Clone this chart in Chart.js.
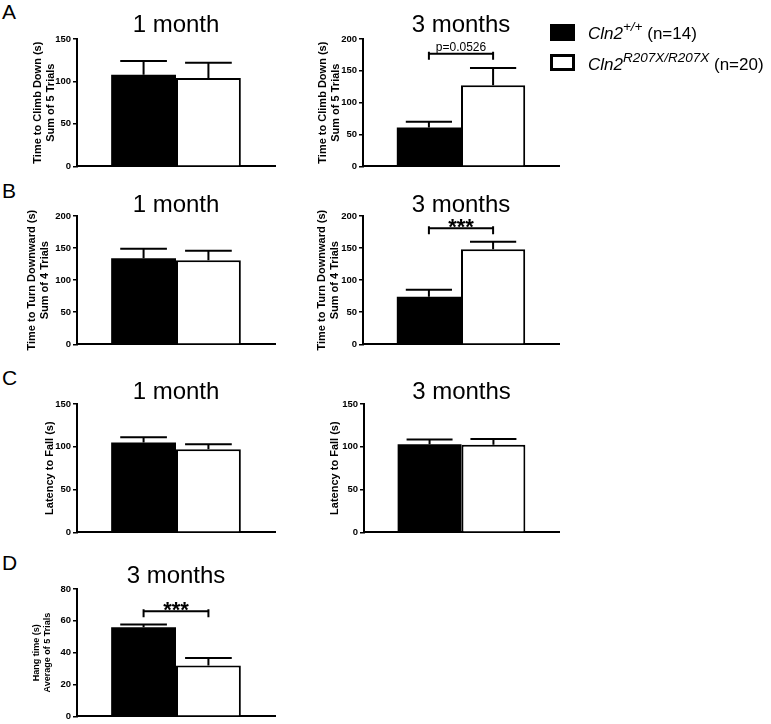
<!DOCTYPE html>
<html>
<head>
<meta charset="utf-8">
<script src="https://cdn.jsdelivr.net/npm/chart.js@4.4.1/dist/chart.umd.min.js"></script>
<style>
html,body{margin:0;padding:0;background:#fff;}
body{width:771px;height:724px;position:relative;overflow:hidden;font-family:"Liberation Sans",Arial,sans-serif;color:#000;}
canvas{position:absolute;}
.letter{position:absolute;font-size:21px;line-height:21px;left:2px;}
.sw{position:absolute;left:550px;width:25px;height:17px;box-sizing:border-box;}
.lt{position:absolute;left:588px;font-size:17px;line-height:16px;white-space:nowrap;}
.lt i{font-style:italic;}
.lt .sup{position:relative;top:-8px;font-size:13.5px;font-style:italic;}
</style>
</head>
<body>
<script>
// ---------- data ----------
const panelTitles = ['1 month', '3 months', '1 month', '3 months', '1 month', '3 months', '3 months'];
const yTitles = [
  ['Time to Climb Down (s)', 'Sum of 5 Trials'],
  ['Time to Climb Down (s)', 'Sum of 5 Trials'],
  ['Time to Turn Downward (s)', 'Sum of 4 Trials'],
  ['Time to Turn Downward (s)', 'Sum of 4 Trials'],
  ['Latency to Fall (s)'],
  ['Latency to Fall (s)'],
  ['Hang time (s)', 'Average of 5 Trials']
];
const wtMeans  = [108, 61, 134, 74, 105, 103, 56];
const wtSem    = [16, 9, 15, 11, 6, 5.5, 1.7];
const mutMeans = [104, 127.5, 131, 148, 97, 102.5, 32];
const mutSem   = [18, 27, 15, 12, 6, 6.5, 4.6];
const yMax     = [150, 200, 200, 200, 150, 150, 80];
const yStep    = [50, 50, 50, 50, 50, 50, 20];
const sigLabels = ['', 'p=0.0526', '', '***', '', '', '***'];
const sigValues = [null, 177, null, 181, null, null, 66];
const genotypes = ['Cln2', 'Cln2'];
const genoSup   = ['+/+', 'R207X/R207X'];
const nCounts   = [14, 20];
const panelLetters = ['A', 'B', 'C', 'D'];

// ---------- layout (positions / styles) ----------
const layouts = [
  {axisX:77,  top:39,  bottom:168, right:275, titleX:38,  tf:11,  tlh:13, gap:7},
  {axisX:363, top:39,  bottom:168, right:559, titleX:323, tf:11,  tlh:13, gap:7},
  {axisX:77,  top:216, bottom:346, right:275, titleX:32,  tf:11,  tlh:13, gap:4},
  {axisX:363, top:216, bottom:346, right:559, titleX:322, tf:11,  tlh:13, gap:4},
  {axisX:77,  top:404, bottom:534, right:275, titleX:50,  tf:11,  tlh:13, gap:5},
  {axisX:364, top:404, bottom:534, right:559, titleX:335, tf:11,  tlh:13, gap:5},
  {axisX:77,  top:589, bottom:718, right:275, titleX:37,  tf:9,   tlh:11, gap:6}
];
const letterTops = [1, 180, 367, 552];
const legendSwatchTops = [24, 54];
const legendTextTops = [25.5, 56.5];
const FONT = "'Liberation Sans', Arial, Helvetica, sans-serif";
Chart.defaults.font.family = FONT;
Chart.defaults.color = '#000';

// ---------- plugins ----------
const panelTitlePlugin = {
  id: 'panelTitle',
  afterDraw(chart, args, opts) {
    const a = chart.chartArea, ctx = chart.ctx;
    ctx.save();
    ctx.font = '24px ' + FONT;
    ctx.fillStyle = '#000';
    ctx.textAlign = 'center';
    ctx.textBaseline = 'alphabetic';
    ctx.fillText(opts.text, (a.left + a.right) / 2, a.top - opts.gap);
    ctx.restore();
  }
};
const errBarPlugin = {
  id: 'errBars',
  afterDatasetsDraw(chart, args, opts) {
    const ctx = chart.ctx, ys = chart.scales.y;
    chart.data.datasets.forEach((ds, di) => {
      const el = chart.getDatasetMeta(di).data[0];
      const top = ys.getPixelForValue(ds.data[0] + opts.sems[di]);
      const half = el.width * 0.36;
      ctx.save();
      ctx.strokeStyle = '#000';
      ctx.lineWidth = 2;
      ctx.beginPath();
      ctx.moveTo(el.x, el.y);
      ctx.lineTo(el.x, top);
      ctx.moveTo(el.x - half, top);
      ctx.lineTo(el.x + half, top);
      ctx.stroke();
      ctx.restore();
    });
  }
};
const sigPlugin = {
  id: 'sig',
  afterDatasetsDraw(chart, args, opts) {
    if (!opts.label) return;
    const ctx = chart.ctx;
    const y = chart.scales.y.getPixelForValue(opts.value);
    const a = chart.getDatasetMeta(0).data[0].x;
    const b = chart.getDatasetMeta(1).data[0].x;
    ctx.save();
    ctx.strokeStyle = '#000';
    ctx.lineWidth = 2;
    ctx.beginPath();
    ctx.moveTo(a, y); ctx.lineTo(b, y);
    ctx.moveTo(a, y - 2); ctx.lineTo(a, y + 6);
    ctx.moveTo(b, y - 2); ctx.lineTo(b, y + 6);
    ctx.stroke();
    ctx.fillStyle = '#000';
    ctx.textAlign = 'center';
    ctx.textBaseline = 'alphabetic';
    if (opts.label.indexOf('*') === 0) {
      ctx.font = 'bold 22px ' + FONT;
      ctx.fillText(opts.label, (a + b) / 2, y + 6);
    } else {
      ctx.font = '12px ' + FONT;
      ctx.fillText(opts.label, (a + b) / 2, y - 3);
    }
    ctx.restore();
  }
};

// ---------- charts ----------
layouts.forEach((L, i) => {
  const titleLeft = L.titleX - L.tlh / 2;
  const cLeft = Math.floor(titleLeft) - 2;
  const cTop = L.top - 42;
  const cRight = L.right + 8;
  const cBottom = Math.min(L.bottom + 6, 724);
  const cv = document.createElement('canvas');
  cv.width = cRight - cLeft;
  cv.height = cBottom - cTop;
  cv.style.left = cLeft + 'px';
  cv.style.top = cTop + 'px';
  cv.style.width = cv.width + 'px';
  cv.style.height = cv.height + 'px';
  document.body.appendChild(cv);

  new Chart(cv, {
    type: 'bar',
    data: {
      labels: [''],
      datasets: [
        {label: genotypes[0] + genoSup[0], data: [wtMeans[i]], backgroundColor: '#000', borderColor: '#000', borderWidth: 0},
        {label: genotypes[1] + genoSup[1], data: [mutMeans[i]], backgroundColor: '#fff', borderColor: '#000', borderWidth: 2}
      ]
    },
    options: {
      responsive: false,
      animation: false,
      events: [],
      devicePixelRatio: 1,
      layout: {padding: {left: titleLeft - cLeft, top: L.top - cTop, right: cRight - L.right, bottom: cBottom - L.bottom}},
      datasets: {bar: {categoryPercentage: 0.655, barPercentage: 1}},
      plugins: {
        legend: {display: false},
        tooltip: {enabled: false},
        title: {display: false},
        panelTitle: {text: panelTitles[i], gap: L.gap},
        errBars: {sems: [wtSem[i], mutSem[i]]},
        sig: {label: sigLabels[i], value: sigValues[i]}
      },
      scales: {
        x: {
          ticks: {display: false},
          grid: {display: false, drawTicks: false},
          border: {display: true, color: '#000', width: 2},
          afterFit: s => { s.height = 0; }
        },
        y: {
          min: 0,
          max: yMax[i],
          ticks: {stepSize: yStep[i], font: {size: 9.5, weight: 'bold'}, color: '#000', padding: 2},
          grid: {drawOnChartArea: false, drawTicks: true, tickLength: 4, color: '#000', lineWidth: 1.5},
          border: {display: true, color: '#000', width: 2},
          title: {display: true, text: yTitles[i], color: '#000', padding: 0,
                  font: {size: L.tf, weight: 'bold', lineHeight: L.tlh / L.tf}},
          afterFit: s => { s.width = L.axisX - titleLeft; }
        }
      }
    },
    plugins: [panelTitlePlugin, errBarPlugin, sigPlugin]
  });
});

// ---------- panel letters ----------
panelLetters.forEach((t, k) => {
  const d = document.createElement('div');
  d.className = 'letter';
  d.style.top = letterTops[k] + 'px';
  d.textContent = t;
  document.body.appendChild(d);
});

// ---------- legend ----------
genotypes.forEach((g, k) => {
  const sw = document.createElement('div');
  sw.className = 'sw';
  sw.style.top = legendSwatchTops[k] + 'px';
  if (k === 0) { sw.style.background = '#000'; }
  else { sw.style.background = '#fff'; sw.style.border = '3px solid #000'; }
  document.body.appendChild(sw);
  const lt = document.createElement('div');
  lt.className = 'lt';
  lt.style.top = legendTextTops[k] + 'px';
  lt.innerHTML = '<i>' + g + '</i><span class="sup">' + genoSup[k] + '</span> (n=' + nCounts[k] + ')';
  document.body.appendChild(lt);
});
</script>
</body>
</html>
